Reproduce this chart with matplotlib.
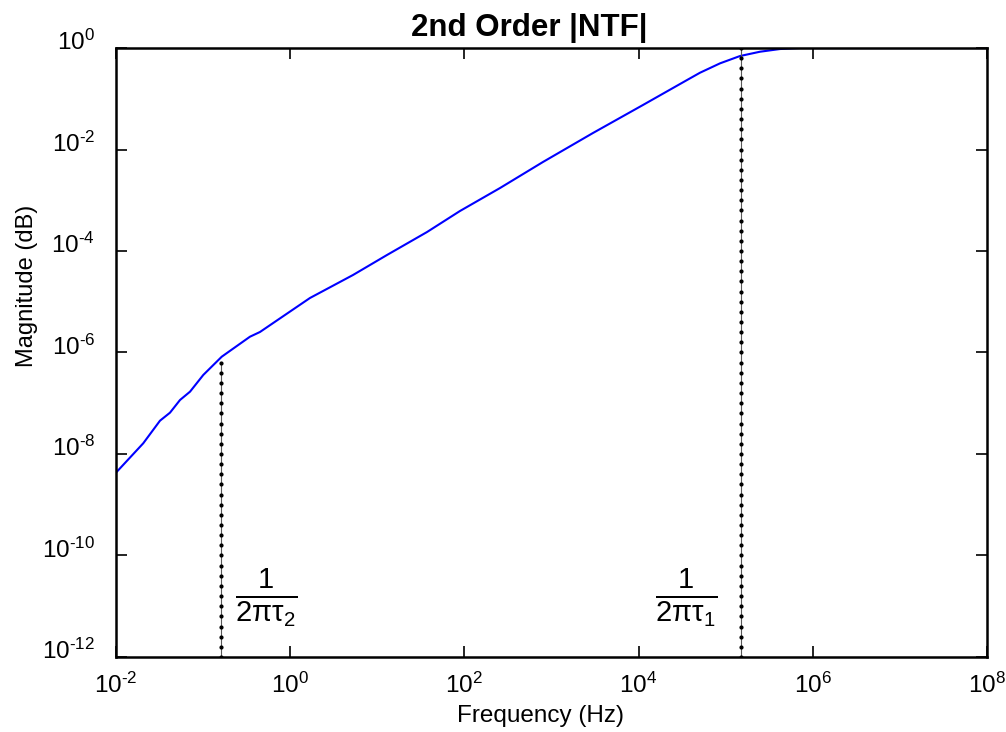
import numpy as np
import matplotlib
matplotlib.use('Agg')
import matplotlib.pyplot as plt
import matplotlib.transforms as mtransforms
from matplotlib.ticker import FuncFormatter

plt.rcParams['font.family'] = ['Liberation Sans', 'DejaVu Sans']
plt.rcParams['mathtext.fontset'] = 'custom'
plt.rcParams['mathtext.rm'] = 'Liberation Sans'
plt.rcParams['mathtext.it'] = 'Liberation Sans:italic'
plt.rcParams['mathtext.bf'] = 'Liberation Sans:bold'
plt.rcParams['axes.unicode_minus'] = False

log_freq = [-2.000, -1.687, -1.495, -1.380, -1.265, -1.150, -0.998, -0.786,
            -0.462, -0.347, 0.227, 0.721, 1.111, 1.571, 1.949, 2.409, 2.902,
            3.476, 4.050, 4.556, 4.705, 4.935, 5.164, 5.394, 5.623, 5.853, 8.000]
log_mag = [-8.368, -7.789, -7.344, -7.186, -6.936, -6.772, -6.443, -6.083,
           -5.689, -5.596, -4.926, -4.473, -4.079, -3.626, -3.212, -2.759, -2.246,
           -1.675, -1.123, -0.631, -0.487, -0.302, -0.158, -0.073, -0.020, 0.000, 0.000]

freq = 10.0 ** np.array(log_freq)
mag = 10.0 ** np.array(log_mag)

# pole frequencies 1/(2*pi*tau) and the height each marker line reaches
f_tau2 = 0.16
f_tau1 = 1.5e5
top_tau2 = 10 ** -6.08
top_tau1 = 1.0

x_ticks = [1e-2, 1e0, 1e2, 1e4, 1e6, 1e8]
y_ticks = [1e-12, 1e-10, 1e-8, 1e-6, 1e-4, 1e-2, 1e0]


def pow10(v, pos):
    e = int(round(np.log10(v)))
    return r'$\mathdefault{10^{\text{%d}}}$' % e


fig = plt.figure(figsize=(10.06, 7.32), dpi=100)
ax = fig.add_axes([0.1153, 0.1025, 0.8658, 0.8319])

ax.plot(freq, mag, color=(0, 0, 1), lw=1.5)

for f, top in [(f_tau2, top_tau2), (f_tau1, top_tau1)]:
    ys = 10.0 ** np.arange(-12, np.log10(top) + 1e-9, 0.2)
    ax.plot(np.full_like(ys, f), ys, color='0.35', lw=0.8,
            marker='.', ms=4, mfc='k', mec='k')

ax.set_xscale('log')
ax.set_yscale('log')
ax.set_xlim(1e-2, 1e8)
ax.set_ylim(1e-12, 1e0)
ax.set_xticks(x_ticks)
ax.set_yticks(y_ticks)
ax.minorticks_off()
ax.xaxis.set_major_formatter(FuncFormatter(pow10))
ax.yaxis.set_major_formatter(FuncFormatter(pow10))
ax.tick_params(which='major', direction='in', length=8, width=1.2,
               top=True, right=True, labelsize=17.5)
ax.tick_params(axis='x', pad=11)
ax.tick_params(axis='y', pad=15)
for s in ax.spines.values():
    s.set_linewidth(1.8)

# y tick labels sit a little above their ticks
shift = mtransforms.ScaledTranslation(0, 8 / 100, fig.dpi_scale_trans)
for lab in ax.get_yticklabels():
    lab.set_transform(lab.get_transform() + shift)

frac_y = 10 ** (-12 + (657 - 598) / 50.75)
ax.text(10 ** (-2 + (266 - 116) / 87.1), frac_y,
        r'$\frac{1}{\mathrm{2\pi\tau}_2}$', fontsize=30, ha='center', va='center')
ax.text(10 ** (-2 + (686 - 116) / 87.1), frac_y,
        r'$\frac{1}{\mathrm{2\pi\tau}_1}$', fontsize=30, ha='center', va='center')

ax.set_title('2nd Order |NTF|', fontsize=22.5, fontweight='bold', x=0.475, pad=9)
ax.set_xlabel('Frequency (Hz)', fontsize=17.5)
ax.set_ylabel('Magnitude (dB)', fontsize=17)
ax.xaxis.set_label_coords(0.487, -0.079)
ax.yaxis.set_label_coords(-0.0896, 0.609)

fig.savefig('out.png', dpi=100)
